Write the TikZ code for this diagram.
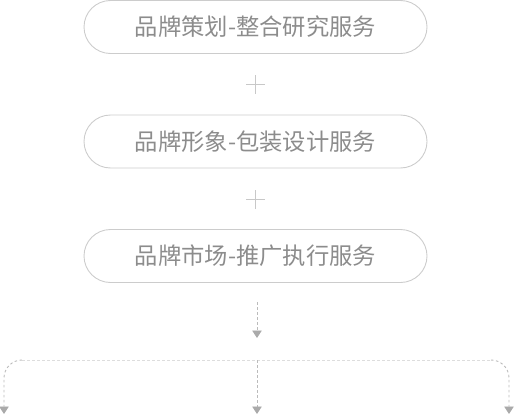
\documentclass[tikz,border=0pt]{standalone}
\usepackage{fontspec}
\newfontfamily\cjk{Noto Sans CJK SC}
\usetikzlibrary{arrows.meta}
\definecolor{boxline}{HTML}{CCCCCC}
\definecolor{txt}{HTML}{8C8C8C}
\definecolor{plusc}{HTML}{C8C8C8}
\definecolor{vdashc}{HTML}{BBBBBB}
\definecolor{hdashc}{HTML}{DDDDDD}
\definecolor{tipc}{HTML}{AAAAAA}
\tikzset{
  pill/.style={draw=boxline, line width=0.9pt, rounded corners=26.5pt,
    minimum width=343pt, minimum height=53pt, inner sep=0pt,
    font=\cjk\fontsize{23.3pt}{26pt}\selectfont, text=txt},
  plusline/.style={draw=plusc, line width=0.9pt},
  vdash/.style={draw=vdashc, line width=0.9pt, dash pattern=on 2.5pt off 2.5pt,
    -{Triangle[width=9.5pt,length=7.5pt,color=tipc]}},
  hdash/.style={draw=hdashc, line width=0.9pt, dash pattern=on 2.5pt off 2.5pt},
  dot/.style={inner sep=0pt, minimum size=0pt}
}
\begin{document}
\begin{tikzpicture}[x=1pt,y=-1pt]
\useasboundingbox (0,0) rectangle (514,415);
\node[pill] (b1) at (255.5,27) {品牌策划-整合研究服务};
\node[pill] (b2) at (255.5,141.5) {品牌形象-包装设计服务};
\node[pill] (b3) at (255.5,256) {品牌市场-推广执行服务};
\node[dot] (p1) at (255.5,84) {};
\node[dot] (p2) at (255.5,199.5) {};
\foreach \p in {p1,p2}{
  \draw[plusline] ([xshift=-9.5pt]\p.center) -- ([xshift=9.5pt]\p.center);
  \draw[plusline] ([yshift=-9.5pt]\p.center) -- ([yshift=9.5pt]\p.center);
}
\coordinate (a0) at (257,302);
\coordinate (a1) at (257,338);
\coordinate (hub) at (257,360);
\coordinate (lc) at (22,360);
\coordinate (rc) at (491,360);
\coordinate (lk) at (4,378);
\coordinate (rk) at (509,378);
\coordinate (lt) at (4,414);
\coordinate (mt) at (257,414);
\coordinate (rt) at (509,414);
\draw[vdash] (a0) -- (a1);
\draw[hdash] (lc) -- (rc);
\draw[vdash] (hub) -- (mt);
\draw[vdash] (lc) to[out=180,in=90] (lk) -- (lt);
\draw[vdash] (rc) to[out=0,in=90] (rk) -- (rt);
\end{tikzpicture}
\end{document}
